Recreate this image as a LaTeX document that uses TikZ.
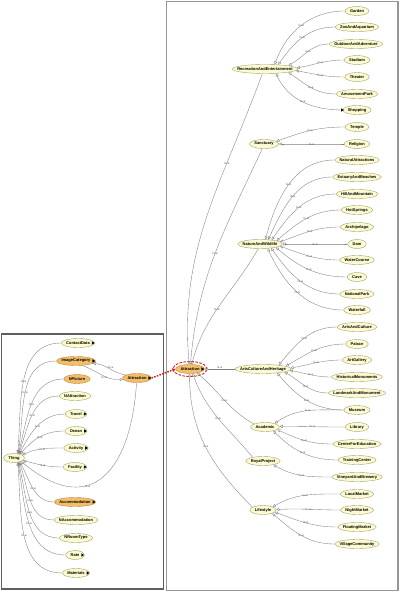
\documentclass[tikz,border=0pt]{standalone}
\usepackage{fontspec}
\setmainfont{Liberation Sans}
\usepackage{tikz}
\usetikzlibrary{arrows.meta,shapes.geometric}
\definecolor{OGYellow}{RGB}{252,250,208}
\definecolor{OGYellowLine}{RGB}{165,160,110}
\definecolor{OGOrange}{RGB}{243,190,105}
\definecolor{OGOrangeLine}{RGB}{190,135,60}
\definecolor{OGEdge}{RGB}{125,125,125}
\definecolor{OGLabel}{RGB}{95,95,95}
\definecolor{OGRed}{RGB}{225,20,20}
\definecolor{OGFrame}{RGB}{150,150,150}
\definecolor{OGFrameDark}{RGB}{95,95,95}
\newlength{\ogwd}
\newcommand{\ogfont}{\fontsize{4}{4.8}\selectfont\bfseries}
\newcommand{\ogclass}[5][]{%
  \pgfinterruptpicture\settowidth{\ogwd}{\ogfont #5}\global\ogwd=\ogwd\endpgfinterruptpicture
  \node[ogcls,minimum width=\ogwd+10pt,#1] (#2) at (#3,#4) {#5};}
\tikzset{
  ogcls/.style={ellipse,draw=OGYellowLine,fill=OGYellow,line width=0.4pt,inner xsep=-40pt,inner ysep=-10pt,minimum height=9pt,font=\ogfont},
  ogsel/.style={draw=OGOrangeLine,fill=OGOrange},
  isa/.style={draw=OGEdge,line width=0.35pt,-{Triangle[open,length=3pt,width=3pt]}},
  isalbl/.style={font=\fontsize{3.2}{3.5}\selectfont,text=OGLabel,inner sep=0.5pt},
  xref/.style={draw=OGRed,line width=1.5pt,dash pattern=on 1.5pt off 1.3pt,-{Triangle[length=3pt,width=3.5pt]}},
  selring/.style={draw=OGRed,line width=0.9pt,dash pattern=on 2.5pt off 1.5pt},
  rframe/.style={draw=OGFrame,line width=1.8pt},
  lframe/.style={draw=OGFrameDark,line width=1.2pt},
}
\begin{document}
\begin{tikzpicture}[x=1pt,y=-1pt]
\useasboundingbox (0,0) rectangle (401,593);
% panels
\draw[rframe] (166.5,1.5) rectangle (398,590.5);
\draw[lframe] (1.5,334) rectangle (163.5,589);

% left panel: Thing and its subclasses
\ogclass{thing}{14}{458}{Thing}
\ogclass{contact}{78}{343}{ContactData}
\ogclass[ogsel]{imgcat}{76}{361}{ImageCategory}
\ogclass[ogsel]{npic}{77}{379}{NPicture}
\ogclass{nattr}{75}{396}{NAttraction}
\ogclass{travel}{76}{414}{Travel}
\ogclass{ocean}{76}{431}{Ocean}
\ogclass{activity}{76}{448}{Activity}
\ogclass{facility}{75}{467}{Facility}
\ogclass[ogsel]{accom}{75}{502}{Accommodation}
\ogclass{naccom}{76}{520}{NAccommodation}
\ogclass{nroom}{76}{538}{NRoomType}
\ogclass{rate}{75}{555}{Rate}
\ogclass{materials}{76}{573}{Materials}
\ogclass[ogsel]{attL}{137}{378}{Attraction}

% right panel: Attraction and its subclasses
\ogclass[ogsel]{attM}{190}{369}{Attraction}
\ogclass{recr}{265}{69}{RecreationAndEntertainment}
\ogclass{garden}{357}{11}{Garden}
\ogclass{zoo}{357}{27}{ZooAndAquarium}
\ogclass{outdoor}{356}{44}{OutdoorAndAdventure}
\ogclass{stadium}{357}{60}{Stadium}
\ogclass{theater}{357}{77}{Theater}
\ogclass{amuse}{357}{94}{AmusementPark}
\ogclass{shopping}{357}{110}{Shopping}
\ogclass{sanct}{264}{144}{Sanctuary}
\ogclass{temple}{357}{127}{Temple}
\ogclass{religion}{357}{144}{Religion}
\ogclass{nature}{260}{244}{NatureAndWildlife}
\ogclass{natural}{357}{160}{NaturalAttractions}
\ogclass{estuary}{357}{177}{EstuaryAndBeaches}
\ogclass{hill}{357}{194}{HillAndMountain}
\ogclass{hot}{357}{210}{HotSprings}
\ogclass{archi}{357}{227}{Archipelago}
\ogclass{dam}{357}{244}{Dam}
\ogclass{water}{357}{260}{WaterCourse}
\ogclass{cave}{357}{277}{Cave}
\ogclass{npark}{357}{294}{NationalPark}
\ogclass{fall}{357}{310}{Waterfall}
\ogclass{arts}{263}{369}{ArtsCultureAndHeritage}
\ogclass{artcult}{357}{327}{ArtsAndCulture}
\ogclass{palace}{357}{344}{Palace}
\ogclass{gallery}{357}{360}{ArtGallery}
\ogclass{histo}{357}{377}{HistoricalMonuments}
\ogclass{landmark}{357}{393}{LandmarkAndMonument}
\ogclass{museum}{357}{410}{Museum}
\ogclass{acad}{265}{427}{Academic}
\ogclass{library}{357}{427}{Library}
\ogclass{center}{357}{444}{CenterForEducation}
\ogclass{training}{357}{460}{TrainingCenter}
\ogclass{royal}{263}{461}{RoyalProject}
\ogclass{vine}{357}{477}{VineyardAndBrewery}
\ogclass{life}{263}{510}{Lifestyle}
\ogclass{local}{357}{494}{LocalMarket}
\ogclass{night}{357}{510}{NightMarket}
\ogclass{floating}{357}{527}{FloatingMarket}
\ogclass{village}{357}{544}{VillageCommunity}

% expand markers
\foreach \n in {contact,imgcat,travel,ocean,activity,facility,accom,rate,materials,attL,attM}
  \fill ([xshift=-3.2pt]\n.east) -- ++(0pt,1.7pt) -- ++(2.8pt,-1.7pt) -- ++(-2.8pt,-1.7pt) -- cycle;
\fill ([xshift=-1.5pt]shopping.west) -- ++(0pt,1.7pt) -- ++(2.8pt,-1.7pt) -- ++(-2.8pt,-1.7pt) -- cycle;

% is-a edges to Thing
\foreach \c/\ang/\dir in {contact/50/85,imgcat/48/80,npic/45/75,nattr/42/70,travel/38/62,ocean/32/50,activity/20/25,facility/-15/-15,accom/-35/-60,naccom/-40/-68,nroom/-45/-75,rate/-48/-80,materials/-50/-85}
  \draw[isa] (\c.west) to[out=180,in=\dir] node[isalbl]{is-a} (thing.\ang);
\draw[isa] (attL.-95) .. controls (130,480) and (85,515) .. node[isalbl,pos=0.6,below]{is-a} (thing.-25);
\draw[isa] (attL.165) to[out=170,in=-5] node[isalbl,pos=0.45,above]{is-a} (imgcat.-8);
\draw[isa] (imgcat.-35) to[out=-20,in=185] node[isalbl,pos=0.55,below]{is-a} (attL.185);

% cross link
\draw[xref] (attL.east) -- (attM.west);
\draw[selring] (attM.center) ellipse [x radius=17pt,y radius=7.5pt];

% is-a edges to Attraction
\draw[isa] (recr.240) to[out=250,in=95] node[isalbl,pos=0.3]{is-a} (attM.100);
\draw[isa] (sanct.250) to[out=245,in=85] node[isalbl,pos=0.5]{is-a} (attM.85);
\draw[isa] (nature.250) to[out=240,in=75] node[isalbl,pos=0.55]{is-a} (attM.70);
\draw[isa] (arts) -- node[isalbl,above]{is-a} (attM);
\draw[isa] (acad.165) to[out=150,in=-40] node[isalbl]{is-a} (attM.-30);
\draw[isa] (royal.160) to[out=130,in=-70] node[isalbl]{is-a} (attM.-60);
\draw[isa] (life.165) to[out=135,in=-90] node[isalbl]{is-a} (attM.-95);

% is-a edges to the categories
\foreach \c/\ang/\dir in {garden/25/70,zoo/18/55,outdoor/8/30,stadium/2/10,theater/-3/-10,amuse/-8/-35,shopping/-22/-65}
  \draw[isa] (\c.west) to[out=180,in=\dir] node[isalbl]{is-a} (recr.\ang);
\foreach \c/\ang/\dir in {temple/12/20,religion/0/0}
  \draw[isa] (\c.west) to[out=180,in=\dir] node[isalbl]{is-a} (sanct.\ang);
\foreach \c/\ang/\dir in {natural/40/75,estuary/28/65,hill/19/55,hot/11/40,archi/6/20,dam/0/0,water/-6/-20,cave/-12/-40,npark/-20/-55,fall/-30/-65}
  \draw[isa] (\c.west) to[out=180,in=\dir] node[isalbl]{is-a} (nature.\ang);
\foreach \c/\ang/\dir in {artcult/14/50,palace/7/30,gallery/2/10,histo/-3/-10,landmark/-8/-30,museum/-16/-50}
  \draw[isa] (\c.west) to[out=180,in=\dir] node[isalbl]{is-a} (arts.\ang);
\foreach \c/\ang/\dir in {museum/20/35,library/2/0,center/-12/-25,training/-25/-45}
  \draw[isa] (\c.west) to[out=180,in=\dir] node[isalbl]{is-a} (acad.\ang);
\draw[isa] (vine.west) to[out=180,in=-30] node[isalbl]{is-a} (royal.-20);
\foreach \c/\ang/\dir in {local/18/30,night/2/3,floating/-10/-20,village/-20/-40}
  \draw[isa] (\c.west) to[out=180,in=\dir] node[isalbl]{is-a} (life.\ang);
\end{tikzpicture}
\end{document}
